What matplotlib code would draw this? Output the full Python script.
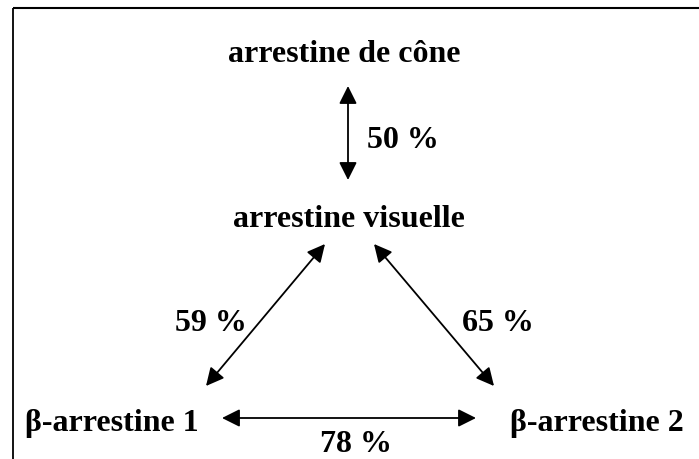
import matplotlib
matplotlib.use("Agg")
import matplotlib.pyplot as plt
from matplotlib.patches import Rectangle

# Data
nodes = ["arrestine de cône", "arrestine visuelle", "β-arrestine 1", "β-arrestine 2"]
links = [(0, 1), (1, 2), (1, 3), (2, 3)]
identity = ["50 %", "59 %", "65 %", "78 %"]

# Layout (pixel coordinates, y downward)
node_xy = [(344, 62), (349, 227), (112, 431), (597, 431)]
arrow_ends = [((348, 86), (348, 180)),
              ((325, 244), (206, 386)),
              ((374, 244), (494, 386)),
              ((222, 418), (476, 418))]
label_xy = [(403, 148), (211, 331), (498, 331), (356, 452)]
label_clip = [146, 329, 329, 450]

fig = plt.figure(figsize=(6.99, 4.59), dpi=100)
ax = fig.add_axes([0, 0, 1, 1])
ax.set_xlim(0, 699)
ax.set_ylim(459, 0)
ax.axis("off")

font = dict(family=["Liberation Serif", "DejaVu Serif"], weight="bold", fontsize=23)

# frame
ax.plot([13, 13], [459, 8], color="black", lw=1.3, solid_capstyle="butt")
ax.plot([12.5, 699], [8, 8], color="black", lw=1.5, solid_capstyle="butt")

for name, (x, y) in zip(nodes, node_xy):
    ax.text(x, y, name, ha="center", va="baseline", **font)

for (p0, p1) in arrow_ends:
    ax.annotate("", xy=p1, xytext=p0,
                arrowprops=dict(arrowstyle="<|-|>,head_length=0.6,head_width=0.3",
                                color="black", lw=1.3,
                                mutation_scale=18, shrinkA=0, shrinkB=0))

for lab, (x, y), yc in zip(identity, label_xy, label_clip):
    t = ax.text(x, y, lab, ha="center", va="baseline", **font)
    clip = Rectangle((x - 80, y - 40), 160, yc - (y - 40), transform=ax.transData)
    t.set_clip_path(clip)

fig.savefig("out.png", dpi=100)
